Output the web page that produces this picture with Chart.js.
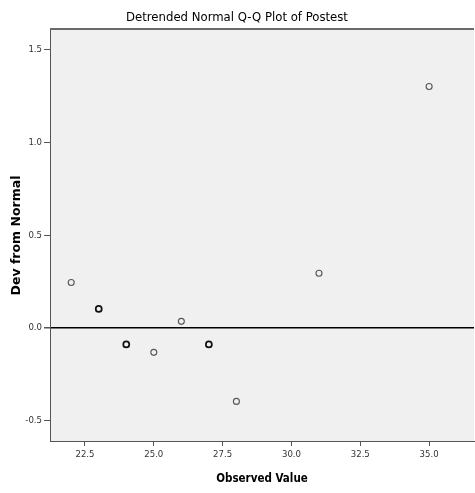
<!DOCTYPE html>
<html>
<head>
<meta charset="utf-8">
<title>Detrended Normal Q-Q Plot of Postest</title>
<script src="https://cdn.jsdelivr.net/npm/chart.js@4.4.1/dist/chart.umd.min.js"></script>
<style>
  body { margin: 0; background: #fff; }
  canvas { display: block; }
</style>
</head>
<body>
<canvas id="qqChart" width="475" height="493"></canvas>
<script>
const observed = [22, 23, 24, 25, 26, 27, 28, 31, 35]
const devFromNormal = [0.245, 0.103, -0.088, -0.131, 0.036, -0.088, -0.395, 0.295, 1.30]
// how many cases sit on each point (overlaps draw darker)
const caseCount = [1, 2, 2, 1, 1, 2, 1, 1, 1]

const xRange = [21.23, 36.63]
const yRange = [-0.608, 1.604]

const narrow = "'DejaVu Sans Condensed', 'Liberation Sans Narrow', 'Arial Narrow', 'Liberation Sans', Arial, sans-serif"

const points = observed.map((x, i) => ({ x: x, y: devFromNormal[i] }))

// grey panel behind the plot + top frame line
const panel = {
    id: "panel",
    beforeDraw(chart) {
        const { ctx, chartArea: a } = chart
        ctx.save()
        ctx.fillStyle = "#f0f0f0"
        ctx.fillRect(a.left, a.top, a.right - a.left, a.bottom - a.top)
        ctx.strokeStyle = "#6a6a6a"
        ctx.lineWidth = 2
        ctx.beginPath()
        ctx.moveTo(a.left, a.top - 1)
        ctx.lineTo(a.right, a.top - 1)
        ctx.stroke()
        ctx.restore()
    }
}

document.addEventListener("DOMContentLoaded", () => {
    const ctx = document.querySelector("#qqChart").getContext("2d")
    new Chart(ctx, {
        type: "scatter",
        data: {
            datasets: [{
                label: "Postest",
                data: points,
                showLine: false,
                pointStyle: "circle",
                pointRadius: 3,
                pointBackgroundColor: "rgba(0,0,0,0)",
                pointBorderColor: caseCount.map(n => n > 1 ? "#111" : "#555"),
                pointBorderWidth: caseCount.map(n => n > 1 ? 1.7 : 1.1)
            }]
        },
        options: {
            responsive: false,
            animation: false,
            layout: { autoPadding: false, padding: { right: 1 } },
            plugins: {
                legend: { display: false },
                tooltip: { enabled: false },
                title: {
                    display: true,
                    text: "Detrended Normal Q-Q Plot of Postest",
                    color: "#000",
                    font: { family: narrow, size: 13, weight: "normal" },
                    padding: { top: 10, bottom: 4.4 }
                }
            },
            scales: {
                x: {
                    type: "linear",
                    min: xRange[0],
                    max: xRange[1],
                    afterFit: s => { s.height = 52 },
                    border: { display: true, color: "#555", width: 1 },
                    grid: {
                        drawOnChartArea: false,
                        drawTicks: true,
                        tickLength: 5,
                        tickColor: "#555"
                    },
                    ticks: {
                        stepSize: 2.5,
                        includeBounds: false,
                        maxRotation: 0,
                        padding: 3,
                        color: "#333",
                        font: { family: narrow, size: 9.5 },
                        callback: v => v.toFixed(1)
                    },
                    title: {
                        display: true,
                        text: "Observed Value",
                        color: "#000",
                        font: { family: narrow, size: 11.5, weight: "bold" },
                        padding: { top: 4, bottom: 7.1 }
                    }
                },
                y: {
                    type: "linear",
                    min: yRange[0],
                    max: yRange[1],
                    afterFit: s => { s.width = 50 },
                    border: { display: true, color: "#555", width: 1 },
                    grid: {
                        color: c => (c.tick && c.tick.value === 0) ? "#000" : "rgba(0,0,0,0)",
                        lineWidth: c => (c.tick && c.tick.value === 0) ? 1.5 : 1,
                        drawTicks: true,
                        tickLength: 6,
                        tickColor: "#555"
                    },
                    ticks: {
                        stepSize: 0.5,
                        includeBounds: false,
                        padding: 2,
                        color: "#333",
                        font: { family: narrow, size: 9.5 },
                        callback: v => v.toFixed(1)
                    },
                    title: {
                        display: true,
                        text: "Dev from Normal",
                        color: "#000",
                        font: { family: "'DejaVu Sans', sans-serif", size: 12.5, weight: "bold" },
                        padding: { top: 9, bottom: 4 }
                    }
                }
            }
        },
        plugins: [panel]
    })
})
</script>
</body>
</html>
